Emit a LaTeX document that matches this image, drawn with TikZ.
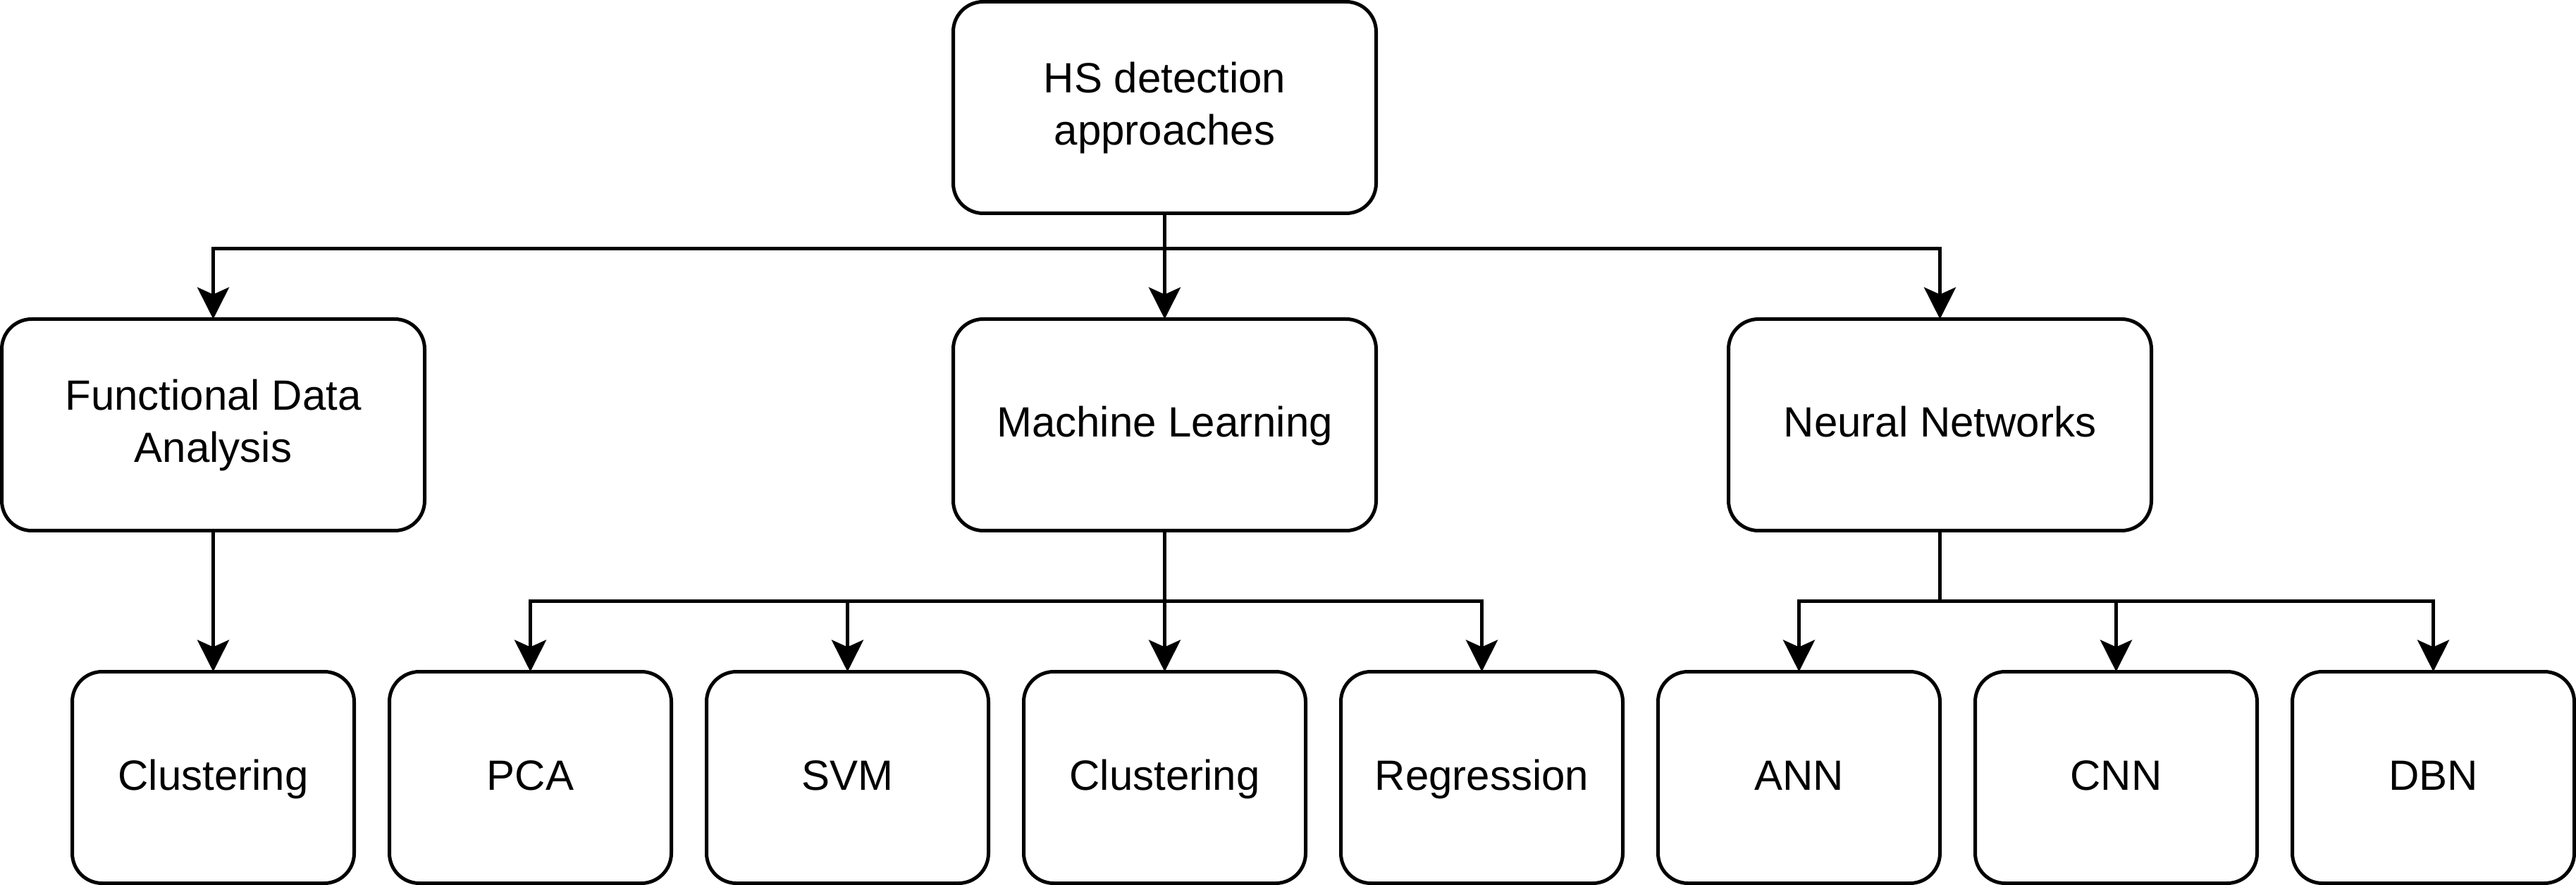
\documentclass[tikz,border=0pt]{standalone}
\usepackage{fontspec}
\setmainfont{Liberation Sans}
\usetikzlibrary{arrows.meta}

\begin{document}
\begin{tikzpicture}[x=1pt,y=-1pt,
  box/.style={draw, line width=1pt, rounded corners=8.5pt, minimum width=120pt,
    minimum height=60pt, inner sep=0pt, outer sep=0pt, align=center,
    font=\fontsize{12}{14.8}\selectfont},
  oneline/.style={box, text height=9.5pt, text depth=2.5pt},
  leaf/.style={oneline, minimum width=80pt},
  link/.style={line width=1pt, -{Stealth[length=9pt,width=9pt,inset=2pt]}}]
\useasboundingbox (0,0) rectangle (731,251);
% top
\node [box] (hs) at (330.5,30.5) {HS detection\\approaches};
% approaches
\node [box] (fda) at (60.5,120.5) {Functional Data\\Analysis};
\node [oneline] (ml) at (330.5,120.5) {Machine Learning};
\node [oneline] (nn) at (550.5,120.5) {Neural Networks};
% methods
\node [leaf] (clu1) at (60.5,220.5) {Clustering};
\node [leaf] (pca) at (150.5,220.5) {PCA};
\node [leaf] (svm) at (240.5,220.5) {SVM};
\node [leaf] (clu2) at (330.5,220.5) {Clustering};
\node [leaf] (reg) at (420.5,220.5) {Regression};
\node [leaf] (ann) at (510.5,220.5) {ANN};
\node [leaf] (cnn) at (600.5,220.5) {CNN};
\node [leaf] (dbn) at (690.5,220.5) {DBN};
% links
\draw [link] (hs.south) -- ++(0,10) -| (fda.north);
\draw [link] (hs.south) -- (ml.north);
\draw [link] (hs.south) -- ++(0,10) -| (nn.north);
\draw [link] (fda.south) -- (clu1.north);
\draw [link] (ml.south) -- ++(0,20) -| (pca.north);
\draw [link] (ml.south) -- ++(0,20) -| (svm.north);
\draw [link] (ml.south) -- (clu2.north);
\draw [link] (ml.south) -- ++(0,20) -| (reg.north);
\draw [link] (nn.south) -- ++(0,20) -| (ann.north);
\draw [link] (nn.south) -- ++(0,20) -| (cnn.north);
\draw [link] (nn.south) -- ++(0,20) -| (dbn.north);
\end{tikzpicture}
\end{document}
